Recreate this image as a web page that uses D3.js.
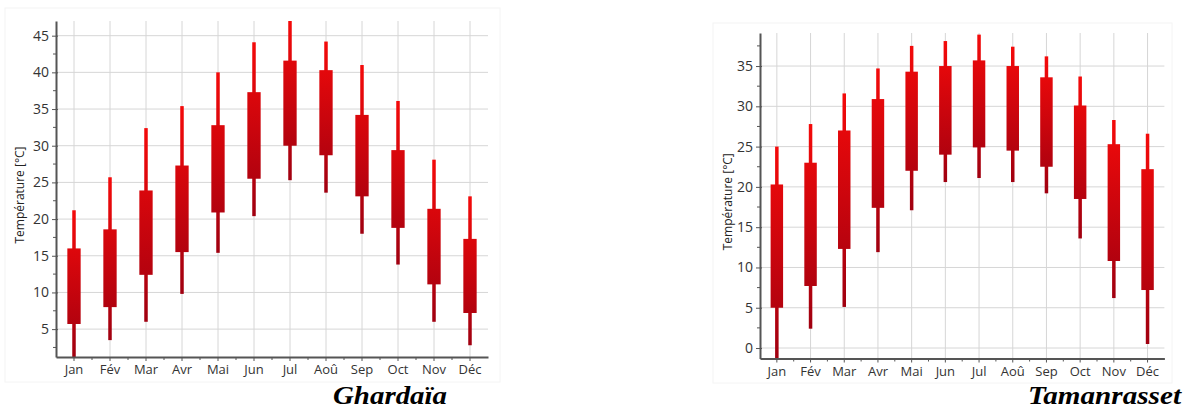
<!DOCTYPE html>
<html>
<head>
<meta charset="utf-8">
<script src="https://cdn.jsdelivr.net/npm/d3@7"></script>
<style>
  body { margin: 0; background: #fff; }
  svg { display: block; }
</style>
</head>
<body>
<svg id="chart" width="1200" height="410"></svg>
<script>
const months = ["Jan", "Fév", "Mar", "Avr", "Mai", "Jun", "Jul", "Aoû", "Sep", "Oct", "Nov", "Déc"];

// Ghardaïa: whisker low, box low, box high, whisker high (°C)
const ghardaiaMin     = [1.2, 3.5, 6.0, 9.8, 15.4, 20.4, 25.3, 23.6, 18.0, 13.8, 6.0, 2.8];
const ghardaiaBoxLow  = [5.7, 8.0, 12.4, 15.5, 20.9, 25.5, 30.0, 28.7, 23.1, 18.8, 11.1, 7.2];
const ghardaiaBoxHigh = [16.0, 18.6, 23.9, 27.3, 32.8, 37.3, 41.6, 40.3, 34.2, 29.4, 21.4, 17.3];
const ghardaiaMax     = [21.2, 25.7, 32.4, 35.4, 40.0, 44.1, 47.0, 44.2, 41.0, 36.1, 28.1, 23.1];
const ghardaiaTicks   = [5, 10, 15, 20, 25, 30, 35, 40, 45];

// Tamanrasset
const tamMin     = [-1.3, 2.4, 5.1, 11.9, 17.1, 20.6, 21.1, 20.6, 19.2, 13.6, 6.2, 0.5];
const tamBoxLow  = [5.0, 7.7, 12.3, 17.4, 22.0, 24.0, 24.9, 24.5, 22.5, 18.5, 10.8, 7.2];
const tamBoxHigh = [20.3, 23.0, 27.0, 30.9, 34.3, 35.0, 35.7, 35.0, 33.6, 30.1, 25.3, 22.2];
const tamMax     = [25.0, 27.8, 31.6, 34.7, 37.5, 38.1, 38.9, 37.4, 36.2, 33.7, 28.3, 26.6];
const tamTicks   = [0, 5, 10, 15, 20, 25, 30, 35];

const svg = d3.select("#chart");
const defs = svg.append("defs");

const tickFont = "'Open Sans', 'Noto Sans', sans-serif";

function drawChart(cfg) {
    const g = svg.append("g").attr("class", cfg.id);

    // faint panel frame
    g.append("rect")
        .attr("x", cfg.panel[0]).attr("y", cfg.panel[1])
        .attr("width", cfg.panel[2]).attr("height", cfg.panel[3])
        .attr("fill", "none")
        .attr("stroke", "#f4f4f4");

    const x = d3.scaleBand()
        .domain(months)
        .range([cfg.left, cfg.right]);

    const y = d3.scaleLinear()
        .domain(cfg.domain)
        .range([cfg.bottom, cfg.top]);

    const data = months.map((m, i) => ({
        month: m,
        min: cfg.min[i],
        lo: cfg.boxLow[i],
        hi: cfg.boxHigh[i],
        max: cfg.max[i]
    }));

    // grid
    g.append("g")
        .selectAll("line")
        .data(cfg.ticks)
        .join("line")
        .attr("x1", cfg.left).attr("x2", cfg.right)
        .attr("y1", d => y(d)).attr("y2", d => y(d))
        .attr("stroke", "#d6d6d6")
        .attr("stroke-width", 1);

    g.append("g")
        .selectAll("line")
        .data(months)
        .join("line")
        .attr("x1", d => x(d) + x.bandwidth() / 2)
        .attr("x2", d => x(d) + x.bandwidth() / 2)
        .attr("y1", cfg.top).attr("y2", cfg.bottom)
        .attr("stroke", "#d6d6d6")
        .attr("stroke-width", 1);

    // gradients, one per candle
    data.forEach((d, i) => {
        const grad = defs.append("linearGradient")
            .attr("id", cfg.id + "grad" + i)
            .attr("gradientUnits", "userSpaceOnUse")
            .attr("x1", 0).attr("x2", 0)
            .attr("y1", y(d.max)).attr("y2", y(d.min));
        grad.append("stop").attr("offset", "0%").attr("stop-color", "#f40a0a");
        grad.append("stop").attr("offset", "100%").attr("stop-color", "#a00010");
    });

    const clipId = cfg.id + "clip";
    defs.append("clipPath").attr("id", clipId)
        .append("rect")
        .attr("x", cfg.left).attr("y", cfg.top)
        .attr("width", cfg.right - cfg.left)
        .attr("height", cfg.bottom - cfg.top);

    const candles = g.append("g")
        .attr("clip-path", "url(#" + clipId + ")")
        .selectAll("g")
        .data(data)
        .join("g");

    const wickW = 3.5;
    const boxW = x.bandwidth() * cfg.boxRatio;

    candles.append("rect")
        .attr("x", d => x(d.month) + x.bandwidth() / 2 - wickW / 2)
        .attr("y", d => y(d.max))
        .attr("width", wickW)
        .attr("height", d => y(d.min) - y(d.max))
        .attr("fill", (d, i) => "url(#" + cfg.id + "grad" + i + ")");

    candles.append("rect")
        .attr("x", d => x(d.month) + x.bandwidth() / 2 - boxW / 2)
        .attr("y", d => y(d.hi))
        .attr("width", boxW)
        .attr("height", d => y(d.lo) - y(d.hi))
        .attr("fill", (d, i) => "url(#" + cfg.id + "grad" + i + ")");

    // y axis with minor ticks
    const minorY = cfg.ticks.map(t => t - 2.5).filter(t => t > cfg.domain[0]);
    minorY.push(cfg.ticks[cfg.ticks.length - 1] + 2.5);
    g.append("g")
        .selectAll("line")
        .data(minorY.filter(t => t < cfg.domain[1]))
        .join("line")
        .attr("x1", cfg.left - 3).attr("x2", cfg.left)
        .attr("y1", d => y(d)).attr("y2", d => y(d))
        .attr("stroke", "#555");

    const yAxis = d3.axisLeft(y)
        .tickValues(cfg.ticks)
        .tickSize(4)
        .tickSizeOuter(0)
        .tickPadding(3);

    g.append("g")
        .attr("transform", "translate(" + cfg.left + ",0)")
        .call(yAxis)
        .call(a => a.select(".domain").attr("stroke", "#555").attr("stroke-width", 2))
        .call(a => a.selectAll(".tick line").attr("stroke", "#555").attr("x2", -4).attr("x1", 2))
        .call(a => a.selectAll("text")
            .attr("font-family", tickFont)
            .attr("font-size", "14px")
            .attr("fill", "#333"));

    // x axis with minor ticks at band edges
    g.append("g")
        .selectAll("line")
        .data(months.slice(1))
        .join("line")
        .attr("x1", d => x(d)).attr("x2", d => x(d))
        .attr("y1", cfg.bottom).attr("y2", cfg.bottom + 3)
        .attr("stroke", "#555");

    const xAxis = d3.axisBottom(x)
        .tickSize(4)
        .tickSizeOuter(0)
        .tickPadding(4);

    g.append("g")
        .attr("transform", "translate(0," + cfg.bottom + ")")
        .call(xAxis)
        .call(a => a.select(".domain").attr("stroke", "#555").attr("stroke-width", 2))
        .call(a => a.selectAll(".tick line").attr("stroke", "#555"))
        .call(a => a.selectAll("text")
            .attr("font-family", tickFont)
            .attr("font-size", "13px")
            .attr("fill", "#333"));

    // y label
    g.append("text")
        .attr("transform", "translate(" + cfg.labelX + "," + ((cfg.top + cfg.bottom) / 2 + 6) + ") rotate(-90)")
        .attr("text-anchor", "middle")
        .attr("font-family", tickFont)
        .attr("font-size", "12px")
        .attr("fill", "#222")
        .text("Température [°C]");

    // city name
    g.append("text")
        .attr("x", cfg.titleX - cfg.titleW)
        .attr("y", 404)
        .attr("textLength", cfg.titleW)
        .attr("lengthAdjust", "spacingAndGlyphs")
        .attr("font-family", "'Liberation Serif', 'Times New Roman', serif")
        .attr("font-weight", "bold")
        .attr("font-style", "italic")
        .attr("font-size", "26px")
        .attr("fill", "#000")
        .text(cfg.title);
}

drawChart({
    id: "gh",
    title: "Ghardaïa",
    titleX: 447, titleW: 114,
    left: 56, right: 488, top: 21, bottom: 357,
    domain: [1.2, 47],
    ticks: ghardaiaTicks,
    min: ghardaiaMin, boxLow: ghardaiaBoxLow, boxHigh: ghardaiaBoxHigh, max: ghardaiaMax,
    boxRatio: 0.37,
    labelX: 24,
    panel: [5, 8, 495, 374]
});

drawChart({
    id: "tm",
    title: "Tamanrasset",
    titleX: 1181, titleW: 153,
    left: 760, right: 1164.4, top: 33, bottom: 358.5,
    domain: [-1.3, 39.1],
    ticks: tamTicks,
    min: tamMin, boxLow: tamBoxLow, boxHigh: tamBoxHigh, max: tamMax,
    boxRatio: 0.37,
    labelX: 732,
    panel: [713, 23, 459, 360]
});
</script>
</body>
</html>
